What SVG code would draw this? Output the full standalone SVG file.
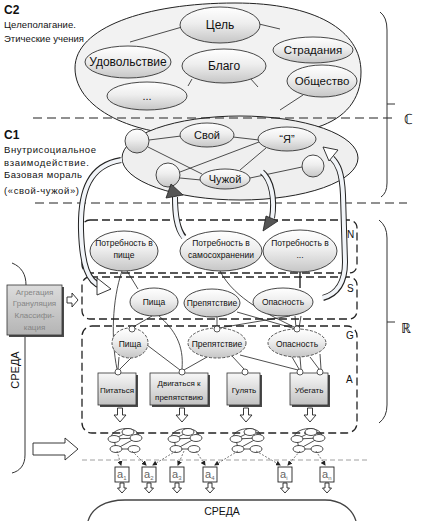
<svg xmlns="http://www.w3.org/2000/svg" width="421" height="521" viewBox="0 0 421 521">
<defs>
<linearGradient id="gEl" x1="0" y1="0" x2="0" y2="1"><stop offset="0" stop-color="#ffffff"/><stop offset="0.45" stop-color="#eeeeee"/><stop offset="1" stop-color="#c6c6c6"/></linearGradient>
<linearGradient id="gBox" x1="0" y1="0" x2="0" y2="1"><stop offset="0" stop-color="#f7f7f7"/><stop offset="1" stop-color="#c2c2c2"/></linearGradient>
<linearGradient id="gAgg" x1="0" y1="0" x2="0" y2="1"><stop offset="0" stop-color="#dcdcdc"/><stop offset="1" stop-color="#b4b4b4"/></linearGradient>
<marker id="mk" markerWidth="5" markerHeight="5" refX="4" refY="2.5" orient="auto" markerUnits="userSpaceOnUse"><path d="M0,0 L5,2.5 L0,5 Z" fill="#222"/></marker>
<path id="dn" d="M-2.5,0 L2.5,0 L2.5,7 L6,7 L0,14 L-6,7 L-2.5,7 Z"/>
<path id="dns" d="M-2,0 L2,0 L2,5 L4.5,5 L0,10 L-4.5,5 L-2,5 Z"/>
<g id="net">
<path d="M -14,-4 C -12,-14 12,-16 14,-5" fill="none" stroke="#222" stroke-width="0.8"/>
<line x1="-11" y1="-2" x2="11" y2="-3" stroke="#222" stroke-width="0.8"/>
<line x1="-9" y1="8" x2="9" y2="8" stroke="#222" stroke-width="0.8"/>
<line x1="-11" y1="-2" x2="-9" y2="8" stroke="#222" stroke-width="0.8"/>
<line x1="-9" y1="8" x2="11" y2="-3" stroke="#222" stroke-width="0.8"/>
<line x1="3" y1="-9" x2="-11" y2="-2" stroke="#222" stroke-width="0.8"/>
<ellipse cx="3" cy="-9" rx="6" ry="3.5" fill="#fff" stroke="#222" stroke-width="0.8"/>
<ellipse cx="-11" cy="-2" rx="6" ry="3.5" fill="#fff" stroke="#222" stroke-width="0.8"/>
<ellipse cx="11" cy="-3" rx="6" ry="3.5" fill="#fff" stroke="#222" stroke-width="0.8"/>
<ellipse cx="-9" cy="8" rx="6" ry="3.5" fill="#fff" stroke="#222" stroke-width="0.8"/>
<ellipse cx="9" cy="8" rx="6" ry="3.5" fill="#fff" stroke="#222" stroke-width="0.8"/>
</g>
</defs>
<style>
.t{font-family:"Liberation Sans",Arial,sans-serif;fill:#111}
.c{text-anchor:middle}
.el{fill:url(#gEl);stroke:#333;stroke-width:0.9}
.eld{fill:url(#gEl);stroke:#444;stroke-width:0.9;stroke-dasharray:3 1.5}
.box{fill:url(#gBox);stroke:#333;stroke-width:0.8}
.sh{fill:#4a4a4a}
.ln{fill:none;stroke:#222;stroke-width:0.8}
.reg{fill:none;stroke:#222;stroke-width:1.3;stroke-dasharray:8 4}
.sep{stroke:#222;stroke-width:1.1;stroke-dasharray:9 5}
.sep2{stroke:#888;stroke-width:0.8;stroke-dasharray:5 3}
.dot{fill:#fff;stroke:#333;stroke-width:0.8}
.ha{fill:#fff;stroke:#222;stroke-width:0.9}
.da{fill:none;stroke:#444;stroke-width:0.7;stroke-dasharray:2 1.5;marker-end:url(#mk)}
.br{fill:none;stroke:#333;stroke-width:1}
.bo{fill:none;stroke:#222;stroke-width:6;stroke-linecap:butt}
.bi{fill:none;stroke:#f1f4f8;stroke-width:4;stroke-linecap:butt}
</style>

<!-- left labels -->
<g id="labels-left">
<text class="t" x="4" y="14" font-size="12" font-weight="bold">C2</text>
<text class="t" x="4" y="28" font-size="9.5" textLength="72" lengthAdjust="spacing">Целеполагание.</text>
<text class="t" x="4" y="42" font-size="9.5" textLength="80" lengthAdjust="spacing">Этические учения</text>
<text class="t" x="4" y="139" font-size="12" font-weight="bold">C1</text>
<text class="t" x="4" y="153" font-size="9.5" textLength="92" lengthAdjust="spacing">Внутрисоциальное</text>
<text class="t" x="4" y="166" font-size="9.5" textLength="85" lengthAdjust="spacing">взаимодействие.</text>
<text class="t" x="4" y="178" font-size="9.5" textLength="78" lengthAdjust="spacing">Базовая мораль</text>
<text class="t" x="4" y="194" font-size="9.5" textLength="75" lengthAdjust="spacing">(«свой-чужой»)</text>
</g>

<!-- C2 -->
<g id="c2">
<path d="M 75,68 C 75,28 145,3 235,3 C 315,3 361,30 361,72 C 361,100 345,118 318,127 C 290,135 250,138 210,137 C 170,136 140,130 118,120 C 92,108 75,90 75,68 Z" fill="#f2f2f2" stroke="#222" stroke-width="1"/>
<g class="ln">
<line x1="182" y1="27" x2="130" y2="42"/>
<line x1="259" y1="24" x2="280" y2="29"/>
<line x1="192" y1="79" x2="188" y2="86"/>
<line x1="250" y1="78" x2="258" y2="87"/>
<line x1="303" y1="95" x2="280" y2="110"/>
</g>
</g>
<g id="n-cel"><ellipse class="el" cx="220" cy="25" rx="40" ry="18"/><text class="t c" x="220" y="29" font-size="12">Цель</text></g>
<g id="n-udov"><ellipse class="el" cx="128" cy="62" rx="43" ry="16"/><text class="t c" x="128" y="66" font-size="12">Удовольствие</text></g>
<g id="n-blago"><ellipse class="el" cx="224" cy="66" rx="42" ry="17"/><text class="t c" x="224" y="70" font-size="12">Благо</text></g>
<g id="n-strad"><ellipse class="el" cx="313" cy="50" rx="40" ry="13"/><text class="t c" x="313" y="54" font-size="11.5">Страдания</text></g>
<g id="n-obsh"><ellipse class="el" cx="322" cy="81" rx="35" ry="16"/><text class="t c" x="322" y="85" font-size="11.5">Общество</text></g>
<g id="n-dots"><ellipse class="el" cx="147" cy="96" rx="40" ry="14"/><text class="t c" x="147" y="100" font-size="11">...</text></g>

<!-- C1 -->
<g id="c1">
<ellipse cx="240" cy="158" rx="118" ry="42" fill="#efefef" stroke="#222" stroke-width="1"/>
<g class="ln">
<line x1="149" y1="140" x2="181" y2="136"/>
<line x1="148" y1="147" x2="202" y2="174"/>
<line x1="180" y1="172" x2="259" y2="142"/>
<line x1="180" y1="178" x2="201" y2="180"/>
<line x1="233" y1="137" x2="259" y2="140"/>
<line x1="240" y1="170" x2="266" y2="148"/>
<line x1="250" y1="178" x2="302" y2="167"/>
</g>
</g>
<g id="n-c1a"><circle class="el" cx="137" cy="141" r="12"/></g>
<g id="n-c1b"><circle class="el" cx="168" cy="175" r="12"/></g>
<g id="n-c1c"><circle class="el" cx="313" cy="166" r="11"/></g>
<g id="n-svoj"><ellipse class="el" cx="207" cy="135" rx="27" ry="12"/><text class="t c" x="207" y="139" font-size="11">Свой</text></g>
<g id="n-ya"><ellipse class="el" cx="287" cy="139" rx="29" ry="12"/><text class="t c" x="287" y="143" font-size="11">“Я”</text></g>
<g id="n-chuzh"><ellipse class="el" cx="225" cy="179" rx="25" ry="10"/><text class="t c" x="225" y="183" font-size="11">Чужой</text></g>

<!-- separators -->
<g id="separators">
<line class="sep" x1="33" y1="118" x2="392" y2="118"/>
<line class="sep" x1="35" y1="203" x2="407" y2="203"/>
<line class="sep2" x1="82" y1="460" x2="370" y2="460"/>
<text class="t" x="404" y="124" font-size="14" font-family="DejaVu Sans">ℂ</text>
<text class="t" x="401" y="333" font-size="14" font-family="DejaVu Sans">ℝ</text>
<path class="br" d="M 380,12 Q 387,17 387,30 L 387,183 Q 387,193 381,197 M 387,104 L 395,104"/>
<path class="br" d="M 379,220 Q 387,226 387,238 L 387,405 Q 387,417 379,423 M 387,322 L 395,322"/>
</g>

<!-- regions -->
<g id="regions">
<rect class="reg" x="82" y="220" width="275" height="53" rx="8"/>
<rect class="reg" x="82" y="277" width="275" height="42" rx="8"/>
<rect class="reg" x="82" y="326" width="275" height="107" rx="10"/>
<text class="t" x="347" y="238" font-size="10">N</text>
<text class="t" x="347" y="292" font-size="10">S</text>
<text class="t" x="346" y="339" font-size="10">G</text>
<text class="t" x="346" y="383" font-size="10">A</text>
</g>

<!-- connectors -->
<g id="connectors" class="ln">
<path d="M 127,271 L 138,289"/>
<path d="M 122,271 C 112,300 111,340 117,369"/>
<path d="M 152,316 L 133,327"/>
<path d="M 158,315 C 175,330 184,345 182,369"/>
<path d="M 119,357 L 118,369 M 132,357 L 120,369"/>
<path d="M 147,345 L 180,370"/>
<path d="M 184,370 L 207,357"/>
<path d="M 217,317 L 217,327"/>
<path d="M 219,328 L 290,316"/>
<path d="M 220,271 C 235,300 270,315 296,328"/>
<path d="M 237,312 L 296,329"/>
<path d="M 300,272 L 300,288" stroke-width="1.4"/>
<path d="M 295,316 L 296,328 M 301,316 L 299,328"/>
<path d="M 292,357 L 299,369 M 300,357 L 301,369 M 310,357 L 319,369 M 320,354 L 321,369"/>
<path d="M 232,356 L 244,369"/>
<path d="M 240,355 L 298,370"/>
</g>

<!-- N nodes -->
<g id="n-potr1"><ellipse class="el" cx="124" cy="251" rx="34" ry="20"/><text class="t c" x="124" y="246" font-size="8.5">Потребность в</text><text class="t c" x="124" y="258" font-size="8.5">пище</text></g>
<g id="n-potr2"><ellipse class="el" cx="221" cy="251" rx="41" ry="20"/><text class="t c" x="221" y="246" font-size="8.5">Потребность в</text><text class="t c" x="221" y="258" font-size="8.5">самосохранении</text></g>
<g id="n-potr3"><ellipse class="el" cx="300" cy="251" rx="37" ry="21"/><text class="t c" x="300" y="246" font-size="8.5">Потребность в</text><text class="t c" x="300" y="258" font-size="8.5">...</text></g>

<!-- S nodes -->
<g id="s-pisha"><ellipse class="el" cx="154" cy="302" rx="24" ry="14"/><text class="t c" x="154" y="305" font-size="8.5">Пища</text></g>
<g id="s-prep"><ellipse class="el" cx="212" cy="303" rx="28" ry="14"/><text class="t c" x="212" y="306" font-size="8.5">Препятствие</text></g>
<g id="s-opas"><ellipse class="el" cx="283" cy="302" rx="30" ry="14"/><text class="t c" x="283" y="305" font-size="8.5">Опасность</text></g>

<!-- G nodes -->
<g id="g-pisha"><ellipse class="eld" cx="130" cy="343" rx="18" ry="15"/><text class="t c" x="130" y="347" font-size="8.5">Пища</text><circle class="dot" cx="132" cy="329" r="3"/></g>
<g id="g-prep"><ellipse class="eld" cx="217" cy="343" rx="29" ry="15"/><text class="t c" x="217" y="347" font-size="8.5">Препятствие</text><circle class="dot" cx="217" cy="329" r="3"/></g>
<g id="g-opas"><ellipse class="eld" cx="297" cy="343" rx="29" ry="14"/><text class="t c" x="297" y="347" font-size="8.5">Опасность</text><circle class="dot" cx="297" cy="329" r="3"/></g>

<!-- A boxes -->
<g id="a-pit"><rect class="sh" x="100" y="375" width="38" height="32"/><rect class="box" x="98" y="373" width="38" height="32"/><text class="t c" x="117" y="393" font-size="8">Питаться</text><circle class="dot" cx="118" cy="372" r="3"/><use href="#dn" x="120" y="408" class="ha"/></g>
<g id="a-dvig"><rect class="sh" x="152" y="375" width="58" height="32"/><rect class="box" x="150" y="373" width="58" height="32"/><text class="t c" x="179" y="386" font-size="8">Двигаться к</text><text class="t c" x="179" y="400" font-size="8">препятствию</text><circle class="dot" cx="182" cy="372" r="3"/><use href="#dn" x="182" y="408" class="ha"/></g>
<g id="a-gul"><rect class="sh" x="229" y="375" width="33" height="32"/><rect class="box" x="227" y="373" width="33" height="32"/><text class="t c" x="244" y="393" font-size="8">Гулять</text><circle class="dot" cx="245" cy="372" r="3"/><use href="#dn" x="246" y="408" class="ha"/></g>
<g id="a-ubeg"><rect class="sh" x="292" y="375" width="38" height="32"/><rect class="box" x="290" y="373" width="38" height="32"/><text class="t c" x="309" y="393" font-size="8">Убегать</text><circle class="dot" cx="300" cy="372" r="3"/><circle class="dot" cx="320" cy="372" r="3"/><use href="#dn" x="310" y="408" class="ha"/></g>

<!-- aggregation box -->
<g id="agg">
<path class="br" d="M 12,263 C 22,267 26,275 26,285"/>
<path class="br" d="M 25,335 L 25,455 C 25,465 20,471 12,473"/>
<rect class="sh" x="9" y="287" width="55" height="50"/>
<rect x="7" y="285" width="55" height="50" fill="url(#gAgg)" stroke="#333" stroke-width="0.8"/>
<text class="t c" x="34.5" y="295" font-size="8" fill="#858585" style="fill:#858585">Агрегация</text>
<text class="t c" x="34.5" y="306" font-size="8" style="fill:#858585">Грануляция</text>
<text class="t c" x="34.5" y="318" font-size="8" style="fill:#858585">Классифи-</text>
<text class="t c" x="34.5" y="330" font-size="8" style="fill:#858585">кация</text>
<path class="ha" d="M 67,297 L 72,297 L 72,293 L 78,300 L 72,307 L 72,303 L 67,303 Z"/>
<text class="t c" x="0" y="0" font-size="11" transform="translate(19,370) rotate(-90)">СРЕДА</text>
<path class="ha" d="M 33,443 L 65,443 L 65,438 L 78,449 L 65,460 L 65,455 L 33,455 Z"/>
</g>

<!-- curved band arrows -->
<g id="bands">
<path class="bo" d="M 121,160 C 90,165 80,190 81,230 C 82,265 88,282 101,286"/>
<path class="bi" d="M 122,160 C 90,165 80,190 81,230 C 82,265 88,282 101,286"/>
<path class="ha" d="M 97,278 L 111,289 L 97,295 Z"/>
<path class="bo" d="M 184,237 C 176,228 175,212 175,197"/>
<path class="bi" d="M 184,238 C 176,228 175,212 175,196"/>
<path d="M 171,184 L 183,195 L 166,198 Z" fill="#555" stroke="#222" stroke-width="0.8"/>
<path class="bo" d="M 262,172 C 272,180 275,200 272,218"/>
<path class="bi" d="M 261,171 C 272,180 275,200 272,219"/>
<path d="M 263,231 L 266,216 L 278,221 Z" fill="#555" stroke="#222" stroke-width="0.8"/>
<path class="bo" d="M 323,298 C 338,294 345,282 345,262 L 343,195 C 342,172 338,164 332,158"/>
<path class="bi" d="M 322,298 C 338,294 345,282 345,262 L 343,195 C 342,172 338,164 331,157"/>
<path class="ha" d="M 323,147 L 338,150 L 329,161 Z"/>
</g>

<!-- bottom networks -->
<g id="nets">
<use href="#net" x="125" y="441"/>
<use href="#net" x="185" y="441"/>
<use href="#net" x="247" y="441"/>
<use href="#net" x="308" y="441"/>
</g>
<g id="net-arrows">
<line class="da" x1="117" y1="451" x2="121" y2="465"/>
<line class="da" x1="132" y1="451" x2="146" y2="465"/>
<line class="da" x1="176" y1="451" x2="153" y2="465"/>
<line class="da" x1="184" y1="451" x2="178" y2="465"/>
<line class="da" x1="196" y1="451" x2="205" y2="465"/>
<line class="da" x1="238" y1="451" x2="215" y2="465"/>
<line class="da" x1="256" y1="451" x2="280" y2="465"/>
<line class="da" x1="300" y1="451" x2="288" y2="465"/>
<line class="da" x1="316" y1="451" x2="325" y2="465"/>
</g>
<g id="a-outputs">
<g><rect x="115" y="467" width="14" height="15" fill="#fff" stroke="#222" stroke-width="0.9"/><text class="t" x="117" y="478" font-size="11" style="fill:#666">a<tspan font-size="6" dy="2">1</tspan></text><use href="#dns" x="122" y="483" class="ha"/></g>
<g><rect x="142" y="467" width="14" height="15" fill="#fff" stroke="#222" stroke-width="0.9"/><text class="t" x="144" y="478" font-size="11" style="fill:#666">a<tspan font-size="6" dy="2">2</tspan></text><use href="#dns" x="149" y="483" class="ha"/></g>
<g><rect x="170" y="467" width="14" height="15" fill="#fff" stroke="#222" stroke-width="0.9"/><text class="t" x="172" y="478" font-size="11" style="fill:#666">a<tspan font-size="6" dy="2">3</tspan></text><use href="#dns" x="177" y="483" class="ha"/></g>
<g><rect x="203" y="467" width="14" height="15" fill="#fff" stroke="#222" stroke-width="0.9"/><text class="t" x="205" y="478" font-size="11" style="fill:#666">a<tspan font-size="6" dy="2">4</tspan></text><use href="#dns" x="210" y="483" class="ha"/></g>
<g><rect x="278" y="467" width="14" height="15" fill="#fff" stroke="#222" stroke-width="0.9"/><text class="t" x="280" y="478" font-size="11" style="fill:#666">a<tspan font-size="6" dy="2">i</tspan></text><use href="#dns" x="285" y="483" class="ha"/></g>
<g><rect x="320" y="467" width="14" height="15" fill="#fff" stroke="#222" stroke-width="0.9"/><text class="t" x="322" y="478" font-size="11" style="fill:#666">a<tspan font-size="6" dy="2">n</tspan></text><use href="#dns" x="327" y="483" class="ha"/></g>
</g>

<!-- environment bottom -->
<g id="sreda">
<path d="M 88,521 C 92,508 105,500 125,500 L 325,500 C 340,500 352,508 356,521" fill="none" stroke="#444" stroke-width="1.3"/>
<text class="t c" x="222" y="515" font-size="10.5">СРЕДА</text>
</g>
</svg>
